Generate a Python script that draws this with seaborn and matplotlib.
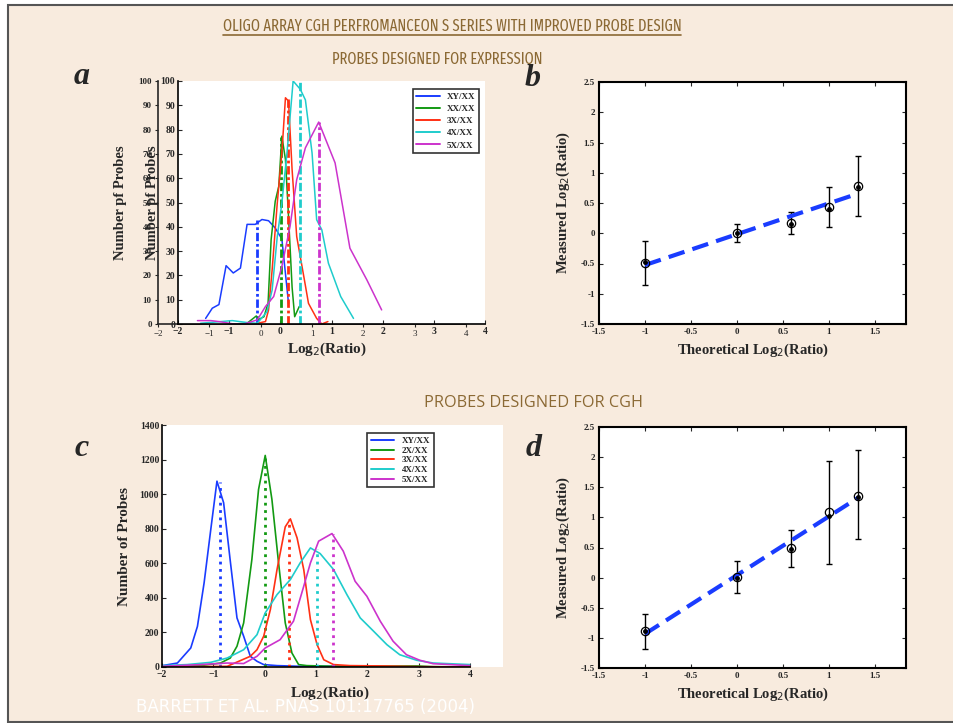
import numpy as np
import pandas as pd
import matplotlib
matplotlib.use("Agg")
import matplotlib.pyplot as plt
import seaborn as sns
from matplotlib import font_manager as fm
from matplotlib.patches import Rectangle
from matplotlib.lines import Line2D

sns.set_style("ticks")
plt.rcParams['font.family'] = ['Liberation Serif', 'DejaVu Serif']

W, H = 954, 723
BG = '#f8ebde'
BROWN = '#8b6934'
cols = ['#1a3cff', '#139a13', '#ff3014', '#1fcccc', '#cc33cc']

# ---- panel a : probes designed for expression (histograms)
a_labels = ['XY/XX', 'XX/XX', '3X/XX', '4X/XX', '5X/XX']
a_x = [
    [-1.46, -1.33, -1.20, -1.06, -0.92, -0.78, -0.65, -0.49, -0.36, -0.23, -0.10, 0.03, 0.16],
    [-0.91, -0.65, -0.47, -0.42, -0.32, -0.24, -0.18, -0.10, -0.03, 0.03, 0.10, 0.16, 0.23, 0.28, 0.37],
    [-0.45, -0.29, -0.23, -0.16, -0.06, 0.03, 0.10, 0.16, 0.23, 0.32, 0.47, 0.55, 0.71, 0.81, 0.93],
    [-1.56, -0.94, -0.65, -0.45, -0.26, -0.16, -0.06, 0.03, 0.13, 0.25, 0.39, 0.49, 0.62, 0.71, 0.81, 0.94, 1.18, 1.43],
    [-1.62, -1.36, -1.20, -0.91, -0.71, -0.45, -0.29, -0.13, 0.03, 0.19, 0.32, 0.49, 0.75, 1.07, 1.36, 1.69, 1.98],
]
a_y = [
    [2.3, 6.5, 8, 24, 21, 23, 41, 41, 43, 42.5, 39.5, 35, 8.5],
    [0, 0.3, 3.3, 1.9, 3.0, 8.5, 34.7, 50.5, 56.7, 77.3, 67.7, 44.3, 15.1, 3.0, 7.2],
    [0.3, 1.0, 5.8, 22.3, 49.8, 70.4, 93.1, 91.7, 63.5, 36.0, 18.2, 8.5, 2.3, 0, 1.0],
    [0.3, 1.4, 0.6, 0.3, 5.1, 14.0, 36.0, 49.8, 70.4, 100, 96.6, 92.2, 70.4, 42.9, 38.8, 25.0, 11.3, 2.3],
    [1.4, 1.4, 1.0, 0, 0, 1.7, 7.2, 11.3, 23.7, 40.2, 59.4, 72.5, 83.1, 66.3, 31.2, 18.2, 5.8],
]
a_peak_x = [-0.45, 0.01, 0.15, 0.39, 0.75]
a_peak_y = [43, 77, 93, 100, 83]

# ---- panel c : probes designed for CGH (histograms)
c_labels = ['XY/XX', '2X/XX', '3X/XX', '4X/XX', '5X/XX']
c_x = [
    [-1.99, -1.70, -1.44, -1.31, -1.18, -1.05, -0.93, -0.80, -0.67, -0.54, -0.41, -0.28, -0.15, -0.02, 0.24, 0.69, 1.99],
    [-2.0, -1.25, -0.86, -0.67, -0.54, -0.41, -0.25, -0.12, 0.01, 0.14, 0.27, 0.40, 0.53, 0.66, 0.82, 1.34, 2.96, 3.28, 4.0],
    [-2.0, -0.73, -0.28, -0.15, -0.02, 0.11, 0.24, 0.40, 0.50, 0.63, 0.76, 0.89, 1.02, 1.15, 1.34, 1.66, 2.31, 3.0, 4.0],
    [-1.99, -1.51, -1.05, -0.73, -0.41, -0.15, 0.01, 0.24, 0.50, 0.69, 0.89, 1.08, 1.34, 1.60, 1.86, 2.12, 2.38, 2.63, 2.96, 3.28, 3.99],
    [-2.0, -1.25, -0.73, -0.41, -0.15, 0.01, 0.30, 0.56, 0.76, 0.89, 1.05, 1.31, 1.53, 1.76, 1.99, 2.25, 2.50, 2.76, 3.02, 3.28, 3.99],
]
c_y = [
    [8, 23, 110, 235, 487, 796, 1075, 950, 612, 284, 178, 62, 33, 14, 8, 4, 4],
    [4, 8, 23, 52, 120, 255, 622, 1027, 1224, 970, 602, 255, 81, 14, 8, 4, 6, 2, 0],
    [0, 4, 62, 100, 178, 332, 564, 811, 857, 747, 564, 274, 129, 42, 14, 8, 6, 2, 0],
    [8, 14, 27, 52, 100, 187, 313, 419, 506, 602, 689, 656, 564, 419, 284, 207, 129, 71, 39, 23, 14],
    [4, 14, 23, 20, 62, 110, 158, 265, 467, 602, 728, 772, 670, 496, 409, 265, 149, 71, 39, 19, 8],
]
c_peak_x = [-0.88, 0.0, 0.48, 1.02, 1.33]
c_peak_y = [1070, 1220, 855, 680, 770]

# ---- panels b, d : measured vs theoretical log2 ratio
theo = [-1, 0, 0.585, 1, 1.32]
b_meas = [-0.49, 0.0, 0.165, 0.435, 0.78]
b_dot = [-0.48, 0.0, 0.15, 0.40, 0.77]
b_lo = [-0.86, -0.15, -0.02, 0.10, 0.29]
b_hi = [-0.12, 0.16, 0.35, 0.77, 1.27]
d_meas = [-0.89, 0.015, 0.485, 1.09, 1.36]
d_dot = [-0.89, 0.0, 0.47, 1.03, 1.33]
d_lo = [-1.18, -0.25, 0.18, 0.22, 0.64]
d_hi = [-0.60, 0.28, 0.79, 1.93, 2.11]


def box(l, t, r, b):
    return [l / W, 1 - b / H, (r - l) / W, (b - t) / H]


# a condensed regular sans face for the headings, narrowest first
def pick_narrow():
    bad = ['italic', 'oblique', 'bold', 'light', 'thin', 'medium', 'black', 'semi', 'mono']
    cands = []
    for f in fm.fontManager.ttflist:
        fn = f.fname.lower().split('/')[-1]
        if 'sans' not in f.name.lower() or any(b in fn for b in bad):
            continue
        if 'extracondensed' in fn:
            cands.append((0, f.fname))
        elif 'condensed' in fn or 'narrow' in fn:
            cands.append((1, f.fname))
    if cands:
        return fm.FontProperties(fname=sorted(cands)[0][1]), 1.0
    return fm.FontProperties(family='Roboto'), 1.12


narrow_fp, squeeze = pick_narrow()

fig = plt.figure(figsize=(W / 100, H / 100), dpi=100, facecolor='white')
fig.patches.append(Rectangle((8 / W, 1 - 722 / H), 1.2, (722 - 5) / H, transform=fig.transFigure,
                             facecolor=BG, edgecolor='#555555', lw=1.5, zorder=-10))
renderer = fig.canvas.get_renderer()


def fit_text(x, y, s, width, size, fp=None, **kw):
    t = fig.text(x / W, 1 - y / H, s, ha='center', va='center', fontsize=size, fontproperties=fp, **kw)
    if fp is not None:
        t.set_fontsize(size)
    w = t.get_window_extent(renderer).width
    t.set_fontsize(size * width / w)
    return t


def hist_panel(ax, xs, ys, labels, px, py, ylim, ystep, vstyle, lw):
    ax.set_facecolor('white')
    for i in range(5):
        df = pd.DataFrame({'x': xs[i], 'y': ys[i]})
        sns.lineplot(data=df, x='x', y='y', ax=ax, color=cols[i], lw=lw, sort=False,
                     estimator=None, label=labels[i])
        ax.vlines(px[i], 0, py[i], color=cols[i], lw=2, linestyles=vstyle)
    ax.set_ylim(*ylim)
    ax.set_yticks(np.arange(ylim[0], ylim[1] + 1, ystep))
    ax.set_xticks(range(-2, 5))
    sns.despine(ax=ax)
    for s in ['left', 'bottom']:
        ax.spines[s].set_linewidth(1.2)
        ax.spines[s].set_color('black')
    ax.tick_params(direction='in', length=3, width=0.8, pad=2, labelsize=7)
    for t in ax.get_xticklabels() + ax.get_yticklabels():
        t.set_fontweight('bold')
    ax.set_ylabel('')
    ax.set_xlabel('')


def panel_legend(ax, anchor, spacing):
    leg = ax.legend(loc='upper right', bbox_to_anchor=anchor, fontsize=6.5, frameon=True, fancybox=False,
                    handlelength=2.6, borderpad=0.4, labelspacing=spacing, handletextpad=0.8)
    leg.get_frame().set_edgecolor('black')
    leg.get_frame().set_linewidth(1.2)
    for t in leg.get_texts():
        t.set_fontweight('bold')
    for h in leg.get_lines():
        h.set_linewidth(1.4)


# ghost axes behind panel a (doubled labels in original)
gh = fig.add_axes(box(158, 81, 466, 324))
gh.patch.set_alpha(0)
gh.set_xlim(-2, 4)
gh.set_ylim(0, 100)
gh.set_xticks(range(-2, 5))
gh.set_yticks(range(0, 101, 10))
sns.despine(ax=gh)
gh.spines['left'].set_linewidth(1.2)
gh.spines['bottom'].set_linewidth(1.2)
gh.tick_params(direction='out', length=2.5, width=0.8, pad=2, labelsize=6.5)
for t in gh.get_yticklabels():
    t.set_fontweight('bold')
gh.set_ylabel('Number pf Probes', fontsize=10.5, fontweight='bold', labelpad=8)

ax_a = fig.add_axes(box(178, 81, 485, 324))
hist_panel(ax_a, a_x, a_y, a_labels, a_peak_x, a_peak_y, (0, 100), 10, (0, (3, 1, 1, 1)), 1.1)
ax_a.set_xlim(-2, 4)
panel_legend(ax_a, (0.995, 0.985), 0.42)
ax_a.set_ylabel('Number pf Probes', fontsize=10.5, fontweight='bold', labelpad=1)
fig.text(327 / W, 1 - 349 / H, 'Log$_2$(Ratio)', ha='center', va='center', fontsize=11, fontweight='bold')

ax_c = fig.add_axes(box(162, 425, 503, 667))
hist_panel(ax_c, c_x, c_y, c_labels, c_peak_x, c_peak_y, (0, 1400), 200, ':', 1.2)
ax_c.set_xlim(-2, 4.64)
ax_c.spines['bottom'].set_bounds(-2, 4)
panel_legend(ax_c, (0.81, 0.985), 0.15)
ax_c.set_ylabel('Number of Probes', fontsize=11, fontweight='bold', labelpad=6)
fig.text(330 / W, 1 - 693 / H, 'Log$_2$(Ratio)', ha='center', va='center', fontsize=11, fontweight='bold')


def ratio_panel(ax, meas, dot, lo, hi):
    ax.set_facecolor('white')
    meas = np.array(meas)
    yerr = [meas - np.array(lo), np.array(hi) - meas]
    ax.errorbar(theo, meas, yerr=yerr, fmt='none', ecolor='black', elinewidth=1, capsize=2.5, capthick=1)
    k, c0 = np.polyfit(theo, meas, 1)
    fit = pd.DataFrame({'x': [theo[0], theo[-1]]})
    fit['y'] = k * fit['x'] + c0
    sns.lineplot(data=fit, x='x', y='y', ax=ax, color='#1a3cff', lw=3, zorder=3)
    ax.lines[-1].set_dashes((4, 2))
    ax.plot(theo, meas, 'o', ms=6, mfc='none', mec='black', mew=0.9, zorder=4)
    ax.plot(theo, dot, 'o', ms=2.5, color='black', zorder=4)
    ax.set_xlim(-1.5, 1.84)
    ax.set_ylim(-1.5, 2.5)
    ax.set_xticks([-1.5, -1, -0.5, 0, 0.5, 1, 1.5])
    ax.set_xticklabels(['-1.5', '-1', '-0.5', '0', '0.5', '1', '1.5'])
    ax.set_yticks([-1.5, -1, -0.5, 0, 0.5, 1, 1.5, 2, 2.5])
    ax.set_yticklabels(['-1.5', '-1', '-0.5', '0', '0.5', '1', '1.5', '2', '2.5'])
    for s in ax.spines.values():
        s.set_linewidth(1.5)
        s.set_color('black')
    ax.tick_params(direction='in', length=3, width=0.8, pad=3, labelsize=6.5, top=True, right=True)
    for t in ax.get_xticklabels() + ax.get_yticklabels():
        t.set_fontweight('bold')
    ax.set_xlabel('Theoretical Log$_2$(Ratio)', fontsize=10.5, fontweight='bold', labelpad=4)
    ax.set_ylabel('Measured Log$_2$(Ratio)', fontsize=10.5, fontweight='bold', labelpad=6)


ax_b = fig.add_axes(box(599, 82, 906, 324))
ratio_panel(ax_b, b_meas, b_dot, b_lo, b_hi)
ax_d = fig.add_axes(box(599, 427, 906, 668))
ratio_panel(ax_d, d_meas, d_dot, d_lo, d_hi)

# panel letters
for lx, ly, s in [(82, 77, 'a'), (533, 78, 'b'), (82, 449, 'c'), (534, 449, 'd')]:
    fig.text(lx / W, 1 - ly / H, s, ha='center', va='center', fontsize=23,
             fontweight='bold', fontstyle='italic')

# headings
title = fit_text(452, 26, 'OLIGO ARRAY CGH PERFROMANCEON S SERIES WITH IMPROVED PROBE DESIGN',
                 455 * squeeze, 12, fp=narrow_fp, color=BROWN)
tb = title.get_window_extent(renderer)
fig.add_artist(Line2D([tb.x0 / W, tb.x1 / W], [1 - 35 / H, 1 - 35 / H], color=BROWN, lw=1.2))
fit_text(437, 59, 'PROBES DESIGNED FOR EXPRESSION', 209 * squeeze, 12, fp=narrow_fp, color=BROWN)
fit_text(533, 403, 'PROBES DESIGNED FOR CGH', 217, 11.5, family=['Open Sans', 'DejaVu Sans'], color=BROWN)
fit_text(306, 707, 'BARRETT ET AL. PNAS 101:17765 (2004)', 338, 11, family=['DejaVu Sans'], color='white')

fig.savefig('out.png', dpi=100, facecolor='white')
